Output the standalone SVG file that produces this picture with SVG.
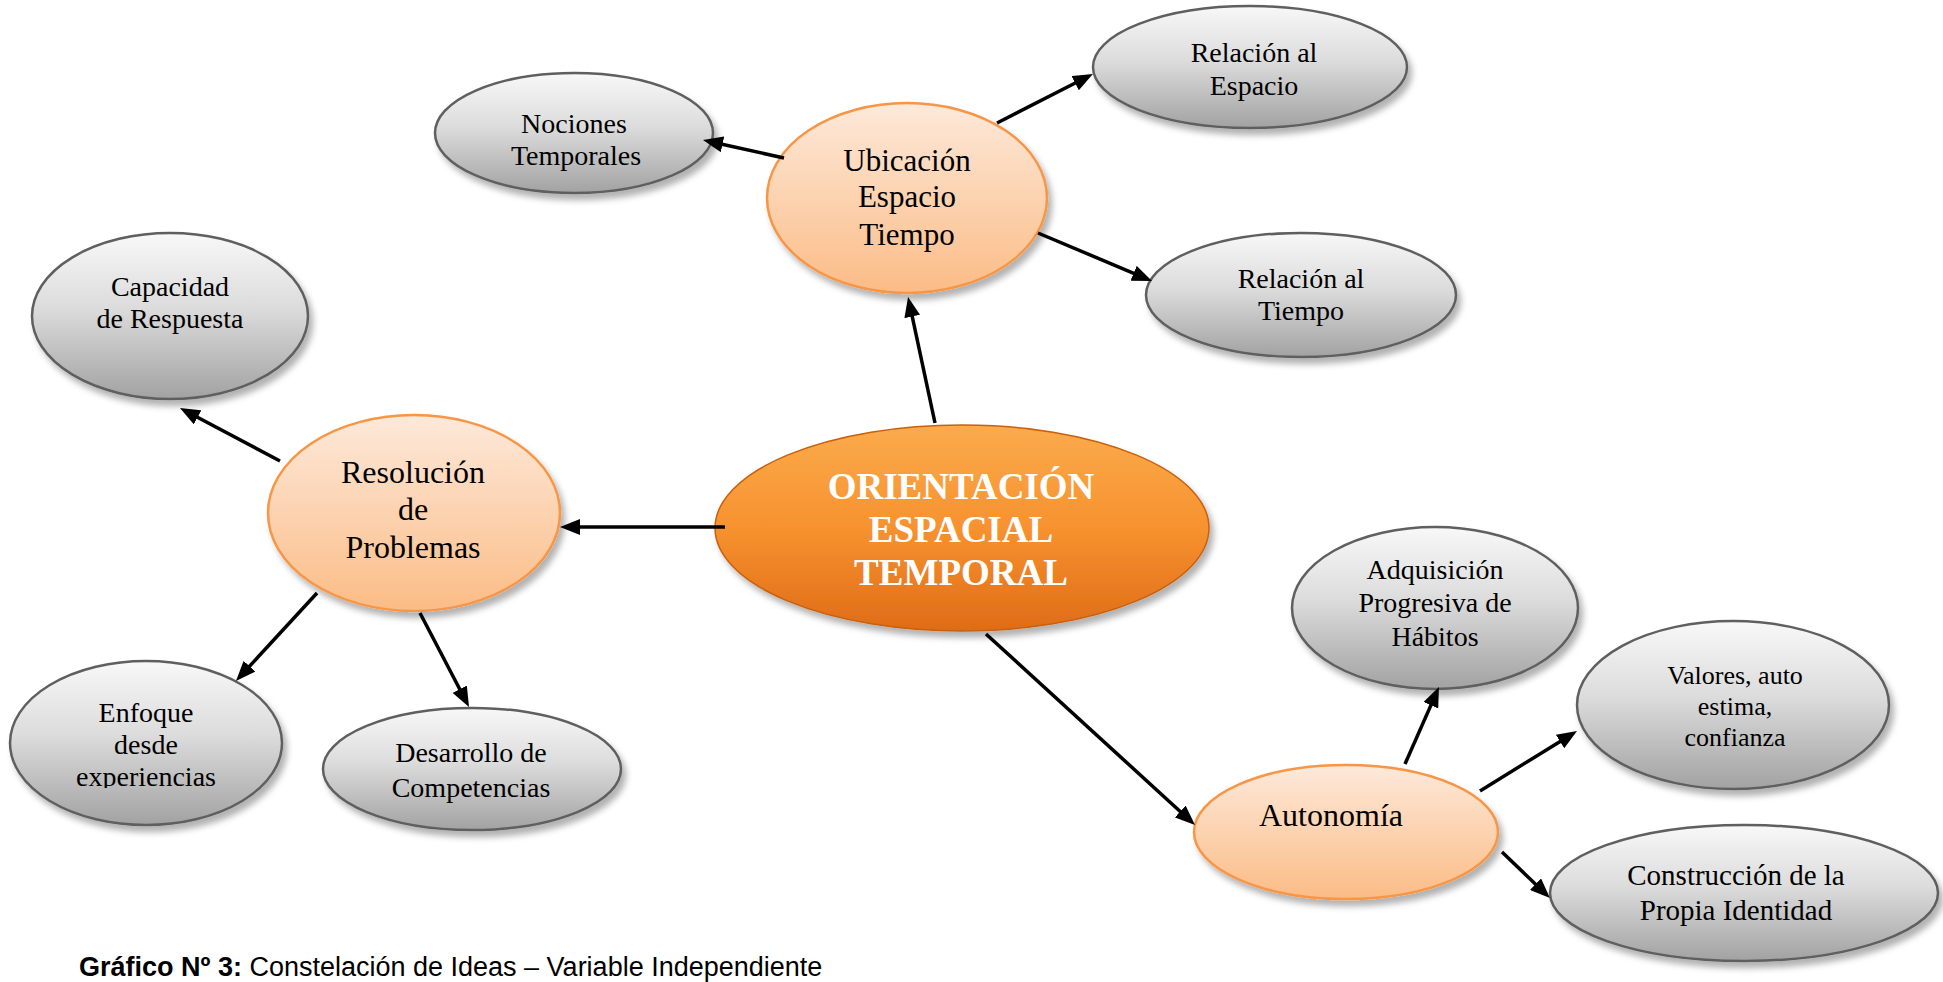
<svg xmlns="http://www.w3.org/2000/svg" width="1943" height="982" viewBox="0 0 1943 982">
<defs>
<linearGradient id="gGray" x1="0" y1="0" x2="0" y2="1">
<stop offset="0" stop-color="#f8f8f8"/>
<stop offset="0.45" stop-color="#dcdcdc"/>
<stop offset="1" stop-color="#a2a2a2"/>
</linearGradient>
<linearGradient id="gLight" x1="0" y1="0" x2="0" y2="1">
<stop offset="0" stop-color="#fde9da"/>
<stop offset="1" stop-color="#fbbc86"/>
</linearGradient>
<linearGradient id="gMain" x1="0" y1="0" x2="0" y2="1">
<stop offset="0" stop-color="#fbab4c"/>
<stop offset="0.5" stop-color="#f7922f"/>
<stop offset="1" stop-color="#df6c17"/>
</linearGradient>
<filter id="sh" x="-10%" y="-10%" width="125%" height="130%">
<feDropShadow dx="4" dy="6" stdDeviation="3" flood-color="#000" flood-opacity="0.3"/>
</filter>
<marker id="ah" markerWidth="20" markerHeight="16" refX="4" refY="8" orient="auto" markerUnits="userSpaceOnUse">
<path d="M0,0 L20,8 L0,16 z" fill="#000"/>
</marker>
<clipPath id="clipEnf"><rect x="0" y="650" width="300" height="138"/></clipPath>
</defs>
<style>
.gray{fill:url(#gGray);stroke:#5f5f5f;stroke-width:2.5;filter:url(#sh)}
.light{fill:url(#gLight);stroke:#f79646;stroke-width:2.5;filter:url(#sh)}
.main{fill:url(#gMain);stroke:#c8600f;stroke-width:1.5;filter:url(#sh)}
.t{font-family:"Liberation Serif","Times New Roman",serif;fill:#000;text-anchor:middle}
.t28{font-size:28px}
.t31{font-size:31px}
.tm{font-family:"Liberation Serif","Times New Roman",serif;font-weight:bold;font-size:37px;fill:#fff;text-anchor:middle}
.c{stroke:#000;stroke-width:3.5;fill:none;marker-end:url(#ah)}
.cap{font-family:"Liberation Sans",Arial,sans-serif;font-size:27px;fill:#000}
</style>
<rect width="1943" height="982" fill="#fff"/>

<g id="n-central">
<ellipse class="main" cx="962" cy="528" rx="247" ry="103"/>
<text class="tm" x="961" y="499">ORIENTACIÓN</text>
<text class="tm" x="961" y="542">ESPACIAL</text>
<text class="tm" x="961" y="585">TEMPORAL</text>
</g>

<g id="n-ubicacion">
<ellipse class="light" cx="907" cy="198" rx="140" ry="95"/>
<text class="t t31" x="907" y="171">Ubicación</text>
<text class="t t31" x="907" y="207">Espacio</text>
<text class="t t31" x="907" y="245">Tiempo</text>
</g>

<g id="n-resolucion">
<ellipse class="light" cx="414" cy="513" rx="146" ry="98"/>
<text class="t" style="font-size:32px" x="413" y="483">Resolución</text>
<text class="t" style="font-size:32px" x="413" y="520">de</text>
<text class="t" style="font-size:32px" x="413" y="558">Problemas</text>
</g>

<g id="n-autonomia">
<ellipse class="light" cx="1346" cy="832" rx="152" ry="67"/>
<text class="t" style="font-size:32px" x="1331" y="826">Autonomía</text>
</g>

<g id="n-nociones">
<ellipse class="gray" cx="574" cy="133" rx="139" ry="60"/>
<text class="t t28" x="574" y="133">Nociones</text>
<text class="t t28" x="576" y="165">Temporales</text>
</g>

<g id="n-espacio">
<ellipse class="gray" cx="1250" cy="67" rx="157" ry="61"/>
<text class="t t28" x="1254" y="62">Relación al</text>
<text class="t t28" x="1254" y="95">Espacio</text>
</g>

<g id="n-tiempo">
<ellipse class="gray" cx="1301" cy="295" rx="155" ry="62"/>
<text class="t t28" x="1301" y="288">Relación al</text>
<text class="t t28" x="1301" y="320">Tiempo</text>
</g>

<g id="n-capacidad">
<ellipse class="gray" cx="170" cy="316" rx="138" ry="83"/>
<text class="t t28" x="170" y="296">Capacidad</text>
<text class="t t28" x="170" y="328">de Respuesta</text>
</g>

<g id="n-enfoque">
<ellipse class="gray" cx="146" cy="743" rx="136" ry="82"/>
<g clip-path="url(#clipEnf)">
<text class="t t28" x="146" y="722">Enfoque</text>
<text class="t t28" x="146" y="754">desde</text>
<text class="t t28" x="146" y="786">experiencias</text>
</g>
</g>

<g id="n-desarrollo">
<ellipse class="gray" cx="472" cy="769" rx="149" ry="61"/>
<text class="t t28" x="471" y="762">Desarrollo de</text>
<text class="t t28" x="471" y="797">Competencias</text>
</g>

<g id="n-adquisicion">
<ellipse class="gray" cx="1435" cy="608" rx="143" ry="81"/>
<text class="t t28" x="1435" y="579">Adquisición</text>
<text class="t t28" x="1435" y="612">Progresiva de</text>
<text class="t t28" x="1435" y="646">Hábitos</text>
</g>

<g id="n-valores">
<ellipse class="gray" cx="1733" cy="705" rx="156" ry="84"/>
<text class="t" style="font-size:26px" x="1735" y="684">Valores, auto</text>
<text class="t" style="font-size:26px" x="1735" y="715">estima,</text>
<text class="t" style="font-size:26px" x="1735" y="746">confianza</text>
</g>

<g id="n-construccion">
<ellipse class="gray" cx="1744" cy="893" rx="194" ry="68"/>
<text class="t" style="font-size:29px" x="1736" y="885">Construcción de la</text>
<text class="t" style="font-size:29px" x="1736" y="920">Propia Identidad</text>
</g>

<g id="connectors">
<line class="c" x1="784" y1="158" x2="718.6" y2="143.5"/>
<line class="c" x1="997" y1="123" x2="1078.7" y2="81.3"/>
<line class="c" x1="1038" y1="233" x2="1137.3" y2="274.8"/>
<line class="c" x1="935" y1="423" x2="911.4" y2="312.6"/>
<line class="c" x1="725" y1="527" x2="576" y2="527"/>
<line class="c" x1="280" y1="461" x2="194.1" y2="415.5"/>
<line class="c" x1="317" y1="593" x2="246.8" y2="669.2"/>
<line class="c" x1="420" y1="613" x2="461.6" y2="692.8"/>
<line class="c" x1="986" y1="634" x2="1183.2" y2="814.2"/>
<line class="c" x1="1405" y1="764" x2="1432.5" y2="701.6"/>
<line class="c" x1="1480" y1="791" x2="1563.4" y2="739.4"/>
<line class="c" x1="1502" y1="852" x2="1538.4" y2="886.9"/>
</g>

<text class="cap" x="79" y="976"><tspan font-weight="bold">Gráfico Nº 3:</tspan> Constelación de Ideas – Variable Independiente</text>
</svg>
